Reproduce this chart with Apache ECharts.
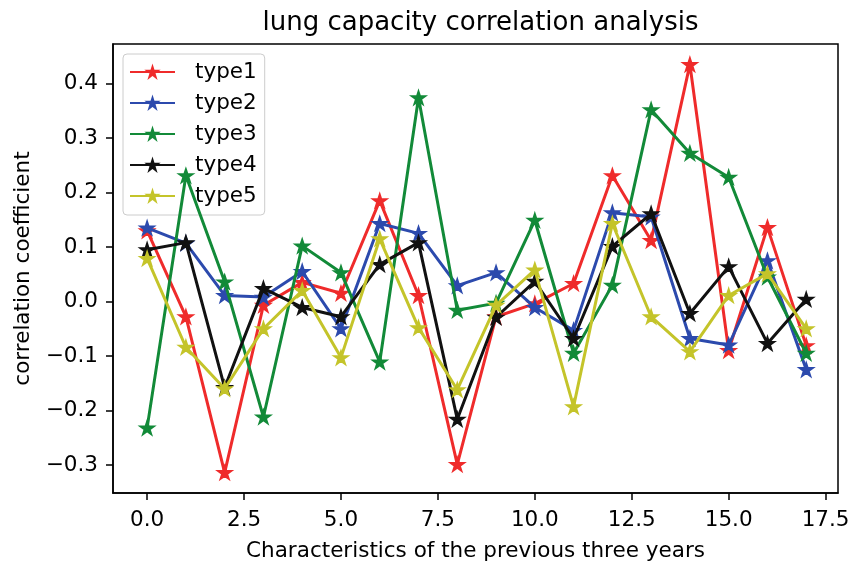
<!DOCTYPE html>
<html>
<head>
<meta charset="utf-8">
<title>lung capacity correlation analysis</title>
<script src="https://cdn.jsdelivr.net/npm/echarts@6/dist/echarts.min.js"></script>
<style>
  html, body { margin: 0; padding: 0; background: #fff; }
  #chart { width: 849px; height: 561px; }
</style>
</head>
<body>
<div id="chart"></div>
<script>
// Feature index (previous three years) and correlation coefficients per type
const features = [0, 1, 2, 3, 4, 5, 6, 7, 8, 9, 10, 11, 12, 13, 14, 15, 16, 17];
const type1 = [0.130, -0.028, -0.314, -0.007, 0.035, 0.015, 0.185, 0.011, -0.299, -0.028, -0.004, 0.033, 0.231, 0.112, 0.435, -0.090, 0.136, -0.081];
const type2 = [0.135, 0.107, 0.011, 0.008, 0.055, -0.050, 0.143, 0.125, 0.029, 0.053, -0.011, -0.053, 0.163, 0.155, -0.068, -0.080, 0.075, -0.125];
const type3 = [-0.232, 0.231, 0.036, -0.212, 0.102, 0.053, -0.111, 0.374, -0.016, -0.003, 0.149, -0.095, 0.030, 0.352, 0.272, 0.228, 0.045, -0.095];
const type4 = [0.095, 0.108, -0.158, 0.024, -0.011, -0.028, 0.068, 0.108, -0.216, -0.029, 0.037, -0.068, 0.101, 0.161, -0.022, 0.064, -0.077, 0.004];
const type5 = [0.079, -0.084, -0.160, -0.050, 0.020, -0.103, 0.115, -0.048, -0.162, -0.007, 0.058, -0.193, 0.143, -0.028, -0.092, 0.011, 0.051, -0.050];
const seriesNames = ['type1', 'type2', 'type3', 'type4', 'type5'];

// Tick labels
const xTicks = [0, 2.5, 5, 7.5, 10, 12.5, 15, 17.5];
const yTicks = [-0.3, -0.2, -0.1, 0.0, 0.1, 0.2, 0.3, 0.4];

const colors = ['#ef2b2b', '#2c4aad', '#128a38', '#111111', '#c4c42a'];
const FONT = 'DejaVu Sans';

// Five-pointed star marker
function starPath() {
  const pts = [];
  for (let k = 0; k < 10; k++) {
    const a = (-90 + k * 36) * Math.PI / 180;
    const r = k % 2 ? 38.1966 : 100;
    pts.push((r * Math.cos(a)).toFixed(3) + ' ' + (r * Math.sin(a)).toFixed(3));
  }
  return 'path://M' + pts.join(' L') + ' Z';
}
const STAR = starPath();

const allValues = [type1, type2, type3, type4, type5];
const series = allValues.map((vals, i) => ({
  name: seriesNames[i],
  type: 'line',
  data: features.map((x, j) => [x, vals[j]]),
  symbol: STAR,
  symbolSize: 13,
  symbolKeepAspect: true,
  showAllSymbol: true,
  lineStyle: { color: colors[i], width: 3 },
  itemStyle: { color: colors[i], borderColor: colors[i], borderWidth: 2 },
  emphasis: { disabled: true },
  z: 2 + i
}));

const fmt = v => (v < 0 ? '\u2212' : '') + Math.abs(v).toFixed(1);

const chart = echarts.init(document.getElementById('chart'), null, { renderer: 'canvas' });
chart.setOption({
  animation: false,
  backgroundColor: '#fff',
  textStyle: { fontFamily: FONT },
  title: {
    text: 'lung capacity correlation analysis',
    left: 475.5,
    textAlign: 'center',
    top: 5,
    textStyle: { fontFamily: FONT, fontSize: 26, fontWeight: 'normal', color: '#000' }
  },
  legend: {
    data: seriesNames,
    orient: 'vertical',
    left: 123,
    top: 54,
    itemWidth: 45,
    itemHeight: 13,
    itemGap: 9,
    padding: [7, 8, 8, 6],
    backgroundColor: 'rgba(255,255,255,0.8)',
    borderColor: '#cccccc',
    borderWidth: 1,
    borderRadius: 4,
    textStyle: { fontFamily: FONT, fontSize: 21.5, color: '#000', lineHeight: 22, padding: [0, 0, 0, 15] }
  },
  grid: {
    left: 113, right: 11, top: 44, bottom: 68,
    outerBoundsMode: 'none',
    containLabel: false,
    show: true, borderColor: '#000', borderWidth: 1.5, backgroundColor: 'transparent'
  },
  xAxis: {
    type: 'value',
    min: -0.88,
    max: 17.82,
    name: 'Characteristics of the previous three years',
    nameLocation: 'middle',
    nameGap: 47,
    nameTextStyle: { fontFamily: FONT, fontSize: 21.5, color: '#000' },
    axisLine: { show: true, onZero: false, lineStyle: { color: '#000', width: 1.5 } },
    axisTick: { show: true, length: 7, customValues: xTicks, lineStyle: { color: '#000', width: 1.5 } },
    axisLabel: { customValues: xTicks, margin: 16, fontFamily: FONT, fontSize: 21.5, color: '#000', formatter: v => v.toFixed(1) },
    splitLine: { show: false }
  },
  yAxis: {
    type: 'value',
    min: -0.3515,
    max: 0.4725,
    name: 'correlation coefficient',
    nameLocation: 'middle',
    nameGap: 77,
    nameTextStyle: { fontFamily: FONT, fontSize: 21.5, color: '#000' },
    axisLine: { show: true, onZero: false, lineStyle: { color: '#000', width: 1.5 } },
    axisTick: { show: true, length: 7, customValues: yTicks, lineStyle: { color: '#000', width: 1.5 } },
    axisLabel: { customValues: yTicks, margin: 15, fontFamily: FONT, fontSize: 21.5, color: '#000', formatter: fmt },
    splitLine: { show: false }
  },
  series: series
});
</script>
</body>
</html>
